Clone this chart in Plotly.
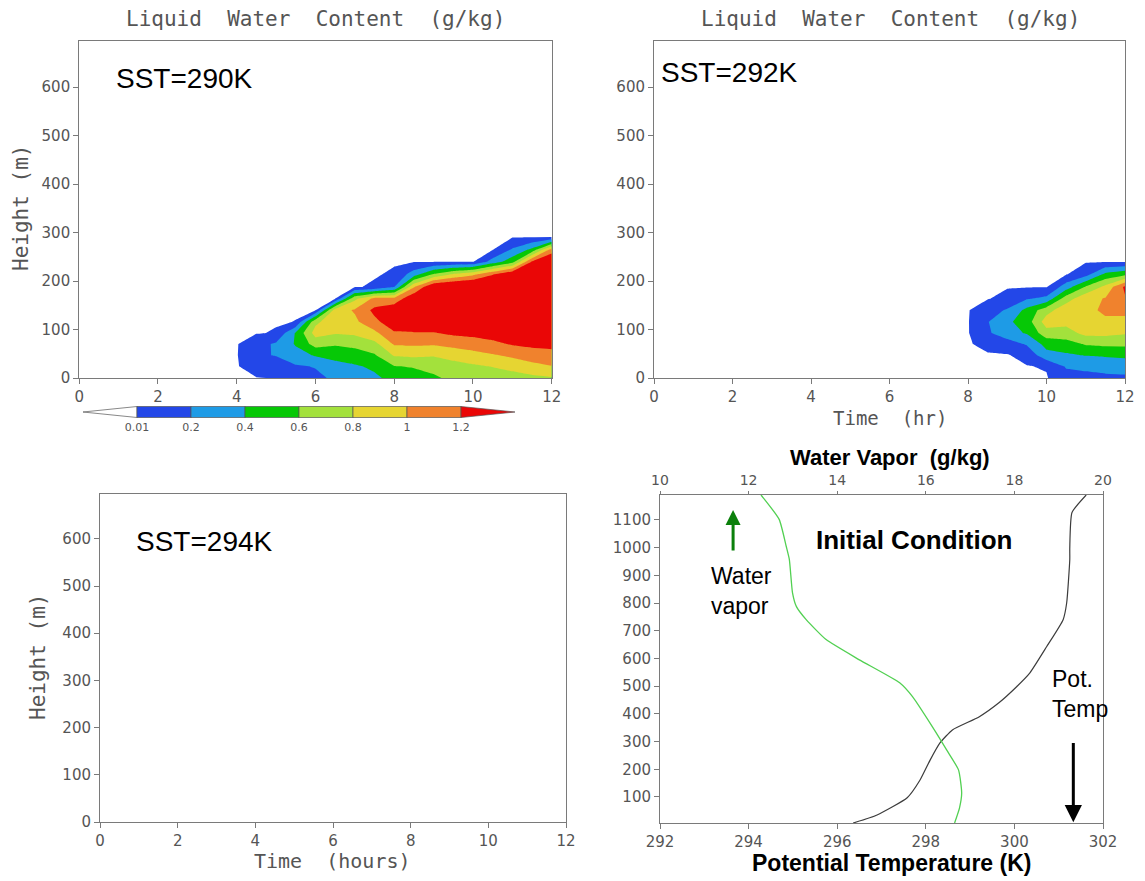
import numpy as np
import plotly.graph_objects as go

W, H = 1145, 881

# ---------------- liquid water content (g/kg), time-height sections ----------------
HEIGHT_LWC = [0, 24, 47, 70, 93, 116, 140, 164, 188, 214, 240, 265, 291, 320]

# one vertical profile (bottom -> top, on HEIGHT_LWC) per output time
TIME_290 = [4, 4.5, 5, 5.5, 6, 6.5, 7, 7.5, 8, 8.5, 9, 9.5, 10, 10.5, 11, 11.5, 12]
LWC_290 = [
    [0.00, 0.00, 0.00, 0.00, 0.00, 0.00, 0.00, 0.00, 0.00, 0.00, 0.00, 0.00, 0, 0],
    [0.005, 0.08, 0.17, 0.12, 0.00, 0.00, 0.00, 0.00, 0.00, 0.00, 0.00, 0.00, 0, 0],
    [0.015, 0.10, 0.21, 0.23, 0.02, 0.00, 0.00, 0.00, 0.00, 0.00, 0.00, 0.00, 0, 0],
    [0.09, 0.18, 0.32, 0.42, 0.42, 0.012, 0.00, 0.00, 0.00, 0.00, 0.00, 0.00, 0, 0],
    [0.16, 0.21, 0.42, 0.68, 0.88, 0.75, 0.00, 0.00, 0.00, 0.00, 0.00, 0.00, 0, 0],
    [0.23, 0.32, 0.48, 0.62, 0.82, 0.94, 0.90, 0.00, 0.00, 0.00, 0.00, 0.00, 0, 0],
    [0.30, 0.38, 0.50, 0.66, 0.84, 0.96, 1.02, 0.75, 0.00, 0.00, 0.00, 0.00, 0, 0],
    [0.37, 0.43, 0.58, 0.74, 0.95, 1.15, 1.25, 1.05, 0.025, 0.00, 0.00, 0.00, 0, 0],
    [0.45, 0.59, 0.82, 1.02, 1.18, 1.32, 1.36, 1.05, 0.19, 0.025, 0.00, 0.00, 0, 0],
    [0.50, 0.62, 0.84, 1.03, 1.19, 1.35, 1.42, 1.38, 0.98, 0.30, 0.00, 0.00, 0, 0],
    [0.58, 0.64, 0.82, 1.02, 1.19, 1.36, 1.45, 1.48, 1.42, 0.62, 0.00, 0.00, 0, 0],
    [0.63, 0.72, 0.88, 1.06, 1.24, 1.40, 1.50, 1.52, 1.48, 0.82, 0.00, 0.00, 0, 0],
    [0.65, 0.77, 0.93, 1.10, 1.26, 1.42, 1.52, 1.55, 1.52, 0.95, 0.00, 0.00, 0, 0],
    [0.68, 0.81, 0.98, 1.15, 1.30, 1.45, 1.55, 1.58, 1.55, 1.18, 0.28, 0.00, 0, 0],
    [0.72, 0.86, 1.04, 1.22, 1.36, 1.48, 1.56, 1.60, 1.58, 1.40, 0.52, 0.22, 0, 0],
    [0.75, 0.94, 1.10, 1.25, 1.38, 1.48, 1.56, 1.60, 1.60, 1.52, 1.22, 0.45, 0, 0],
    [0.78, 0.99, 1.14, 1.25, 1.38, 1.48, 1.56, 1.60, 1.60, 1.55, 1.45, 1.08, 0, 0],
]

TIME_292 = [8, 8.5, 9, 9.5, 10, 10.5, 11, 11.5, 12]
LWC_292 = [
    [0.00, 0.00, 0.00, 0.00, 0.00, 0.00, 0.00, 0.00, 0.00, 0.00, 0, 0, 0, 0],
    [0.00, 0.00, 0.00, 0.04, 0.17, 0.19, 0.12, 0.00, 0.00, 0.00, 0, 0, 0, 0],
    [0.00, 0.00, 0.00, 0.10, 0.32, 0.36, 0.22, 0.06, 0.00, 0.00, 0, 0, 0, 0],
    [0.00, 0.005, 0.06, 0.22, 0.42, 0.50, 0.46, 0.18, 0.00, 0.00, 0, 0, 0, 0],
    [0.00, 0.02, 0.33, 0.47, 0.72, 0.90, 0.72, 0.25, 0.00, 0.00, 0, 0, 0, 0],
    [0.12, 0.22, 0.37, 0.52, 0.72, 0.86, 0.93, 0.70, 0.30, 0.00, 0, 0, 0, 0],
    [0.16, 0.23, 0.41, 0.62, 0.86, 0.93, 0.97, 0.94, 0.62, 0.12, 0, 0, 0, 0],
    [0.17, 0.25, 0.43, 0.64, 0.86, 0.98, 1.02, 1.01, 0.85, 0.45, 0, 0, 0, 0],
    [0.17, 0.27, 0.45, 0.64, 0.82, 0.95, 1.05, 1.18, 1.24, 0.55, 0, 0, 0, 0],
]

LWC_LEVELS = [0.01, 0.2, 0.4, 0.6, 0.8, 1.0, 1.2]
LEVEL_LABELS = ["0.01", "0.2", "0.4", "0.6", "0.8", "1", "1.2"]
SHADES = ["#ffffff", "#2347e8", "#1e9be6", "#06c806", "#a3e13c",
          "#e6d532", "#f0822d", "#ea0606"]

TIME_TICKS = [0, 2, 4, 6, 8, 10, 12]
HEIGHT_TICKS = [0, 100, 200, 300, 400, 500, 600]

# ---------------- initial profiles ----------------
THETA_Z = [6, 35, 97, 161, 234, 295, 342, 389, 440, 498, 548, 643, 740, 800, 957, 1000, 1127, 1190]
THETA_K = [296.36, 296.9, 297.58, 297.87, 298.1, 298.32, 298.6, 299.2, 299.65, 300.05,
           300.35, 300.73, 301.1, 301.18, 301.25, 301.25, 301.3, 301.62]
QV_Z = [6, 60, 114, 197, 270, 353, 462, 512, 595, 668, 740, 787, 838, 957, 1004, 1102, 1190]
QV_GKG = [16.65, 16.76, 16.81, 16.74, 16.47, 16.15, 15.7, 15.41, 14.5, 13.75, 13.3,
          13.08, 12.99, 12.92, 12.85, 12.69, 12.28]
THETA_TICKS = [292, 294, 296, 298, 300, 302]
QV_TICKS = [10, 12, 14, 16, 18, 20]
PROFILE_Z_TICKS = [100, 200, 300, 400, 500, 600, 700, 800, 900, 1000, 1100]


def dom_x(left, right):
    return [left / W, right / W]


def dom_y(top, bottom):
    return [1 - bottom / H, 1 - top / H]


def lwc_traces(times, profiles, xa, ya):
    z = np.array(profiles).T  # rows = heights, columns = times
    n_upper = len(LWC_LEVELS) - 1
    upper_scale = [[0, "rgba(255,255,255,0)"]] + [
        [(i + 1) / n_upper, SHADES[i + 2]] for i in range(n_upper)
    ]
    lowest = go.Contour(
        x=times, y=HEIGHT_LWC, z=z, xaxis=xa, yaxis=ya,
        autocontour=False,
        contours=dict(start=LWC_LEVELS[0], end=LWC_LEVELS[0], size=1,
                      coloring="fill", showlines=False),
        colorscale=[[0, "rgba(255,255,255,0)"], [1, SHADES[1]]],
        showscale=False, line=dict(width=0, smoothing=0), hoverinfo="skip",
    )
    upper = go.Contour(
        x=times, y=HEIGHT_LWC, z=z, xaxis=xa, yaxis=ya,
        autocontour=False,
        contours=dict(start=LWC_LEVELS[1], end=LWC_LEVELS[-1],
                      size=LWC_LEVELS[2] - LWC_LEVELS[1],
                      coloring="fill", showlines=False),
        colorscale=upper_scale,
        showscale=False, line=dict(width=0, smoothing=0), hoverinfo="skip",
    )
    return [lowest, upper]


traces = []
traces += lwc_traces(TIME_290, LWC_290, "x", "y")
traces += lwc_traces(TIME_292, LWC_292, "x2", "y2")
# SST=294K: no cloud forms, the panel only carries its axes
traces.append(go.Scatter(x=[None], y=[None], xaxis="x3", yaxis="y3", mode="lines",
                         hoverinfo="skip"))

# initial condition profiles
traces.append(go.Scatter(x=THETA_K, y=THETA_Z, xaxis="x4", yaxis="y4", mode="lines",
                         line=dict(color="#3c3c3c", width=1.2, shape="spline", smoothing=0.5),
                         hoverinfo="skip"))
traces.append(go.Scatter(x=QV_GKG, y=QV_Z, xaxis="x5", yaxis="y4", mode="lines",
                         line=dict(color="#52d052", width=1.3, shape="spline", smoothing=0.5),
                         hoverinfo="skip"))

# shaded key: triangles at both ends, boxes between the levels
n_lev = len(LWC_LEVELS)
key_shapes = [([-1, 0, 0, -1], [0.5, 0, 1, 0.5], SHADES[0])]
for i in range(n_lev - 1):
    key_shapes.append(([i, i + 1, i + 1, i, i], [0, 0, 1, 1, 0], SHADES[i + 1]))
key_shapes.append(([n_lev - 1, n_lev, n_lev - 1, n_lev - 1], [0, 0.5, 1, 0], SHADES[-1]))
for kx, ky, col in key_shapes:
    traces.append(go.Scatter(x=kx, y=ky, xaxis="x6", yaxis="y6", mode="lines",
                             fill="toself", fillcolor=col,
                             line=dict(color="#555555", width=0.7), hoverinfo="skip"))

grey = "#7a7a7a"
tick_font = dict(family="DejaVu Sans", size=15, color="#555555")
base_axis = dict(automargin=False, showgrid=False, zeroline=False, fixedrange=True)
grads_axis = dict(showline=True, linecolor=grey, linewidth=1, mirror=True,
                  ticks="outside", ticklen=5, tickwidth=1, tickcolor=grey,
                  tickfont=tick_font, **base_axis)

layout = go.Layout(
    template="none",
    width=W, height=H, margin=dict(l=0, r=0, t=0, b=0, autoexpand=False),
    paper_bgcolor="white", plot_bgcolor="white", showlegend=False, hovermode=False,
    xaxis=dict(domain=dom_x(79.2, 551.7), range=[0, 12], tickvals=TIME_TICKS, anchor="y", **grads_axis),
    yaxis=dict(domain=dom_y(40.7, 378), range=[0, 696], tickvals=HEIGHT_TICKS, anchor="x", **grads_axis),
    xaxis2=dict(domain=dom_x(654, 1125), range=[0, 12], tickvals=TIME_TICKS, anchor="y2", **grads_axis),
    yaxis2=dict(domain=dom_y(40.7, 378), range=[0, 696], tickvals=HEIGHT_TICKS, anchor="x2", **grads_axis),
    xaxis3=dict(domain=dom_x(100, 566), range=[0, 12], tickvals=TIME_TICKS, anchor="y3", **grads_axis),
    yaxis3=dict(domain=dom_y(494, 822), range=[0, 695], tickvals=HEIGHT_TICKS, anchor="x3", **grads_axis),
    xaxis4=dict(domain=dom_x(660, 1103), range=[292, 302], tickvals=THETA_TICKS, anchor="y4",
                showline=True, linecolor=grey, linewidth=1, mirror=False, ticks="outside",
                ticklen=5, tickcolor=grey, tickfont=tick_font, **base_axis),
    xaxis5=dict(overlaying="x4", side="top", range=[10, 20], tickvals=QV_TICKS, anchor="y4",
                showline=True, linecolor=grey, linewidth=1, ticks="outside", ticklen=3,
                tickcolor=grey, tickfont=dict(family="DejaVu Sans", size=14, color="#555555"),
                **base_axis),
    yaxis4=dict(domain=dom_y(495, 823), range=[6, 1190], tickvals=PROFILE_Z_TICKS, anchor="x4",
                **grads_axis),
    xaxis6=dict(domain=dom_x(80.3, 517.7), range=[-1.05, 7.05], anchor="y6",
                tickvals=list(range(n_lev)), ticktext=LEVEL_LABELS, ticks="",
                showline=False, tickfont=dict(family="DejaVu Sans", size=11, color="#555555"),
                **base_axis),
    yaxis6=dict(domain=dom_y(405.4, 418.6), range=[-0.1, 1.1], anchor="x6",
                showticklabels=False, ticks="", showline=False, **base_axis),
)

mono = "DejaVu Sans Mono"
arial = "Liberation Sans, Arial, sans-serif"


def note(text, x, y, size, family, color="#000000", xanchor="center", yanchor="middle",
         angle=0, bold=False, align="center"):
    return dict(text=f"<b>{text}</b>" if bold else text, x=x / W, y=1 - y / H,
                xref="paper", yref="paper", showarrow=False, xanchor=xanchor,
                yanchor=yanchor, textangle=angle, align=align,
                font=dict(family=family, size=size, color=color))


annotations = [
    note("Liquid  Water  Content  (g/kg)", 315, 19, 21, mono, "#555555"),
    note("Liquid  Water  Content  (g/kg)", 890, 19, 21, mono, "#555555"),
    note("Height (m)", 21, 208, 21, mono, "#555555", angle=-90),
    note("Height (m)", 38, 657, 21, mono, "#555555", angle=-90),
    note("Time  (hr)", 890, 418, 19, mono, "#555555"),
    note("Time  (hours)", 332, 861, 20, mono, "#555555"),
    note("SST=290K", 114, 79, 28, arial, xanchor="left"),
    note("SST=292K", 659, 72, 28, arial, xanchor="left"),
    note("SST=294K", 134, 541, 28, arial, xanchor="left"),
    note("Water Vapor  (g/kg)", 890, 457, 22, arial, bold=True),
    note("Potential Temperature (K)", 891, 863, 23, arial, bold=True),
    note("Initial Condition", 914, 540, 26, arial, bold=True),
    note("Water<br>vapor", 709, 561, 23, arial, xanchor="left", yanchor="top", align="left"),
    note("Pot.<br>Temp", 1050, 664, 23, arial, xanchor="left", yanchor="top", align="left"),
    # arrows pointing at each profile's axis
    dict(x=293.65, y=1136, ax=293.65, ay=984, xref="x4", yref="y4", axref="x4", ayref="y4",
         text="", showarrow=True, arrowhead=2, arrowsize=1.0, arrowwidth=3,
         arrowcolor="#0b800b"),
    dict(x=301.33, y=9, ax=301.33, ay=300, xref="x4", yref="y4", axref="x4", ayref="y4",
         text="", showarrow=True, arrowhead=2, arrowsize=1.15, arrowwidth=3,
         arrowcolor="#000000"),
]
layout.annotations = annotations

fig = go.Figure(data=traces, layout=layout)
fig.write_html("out.html")
